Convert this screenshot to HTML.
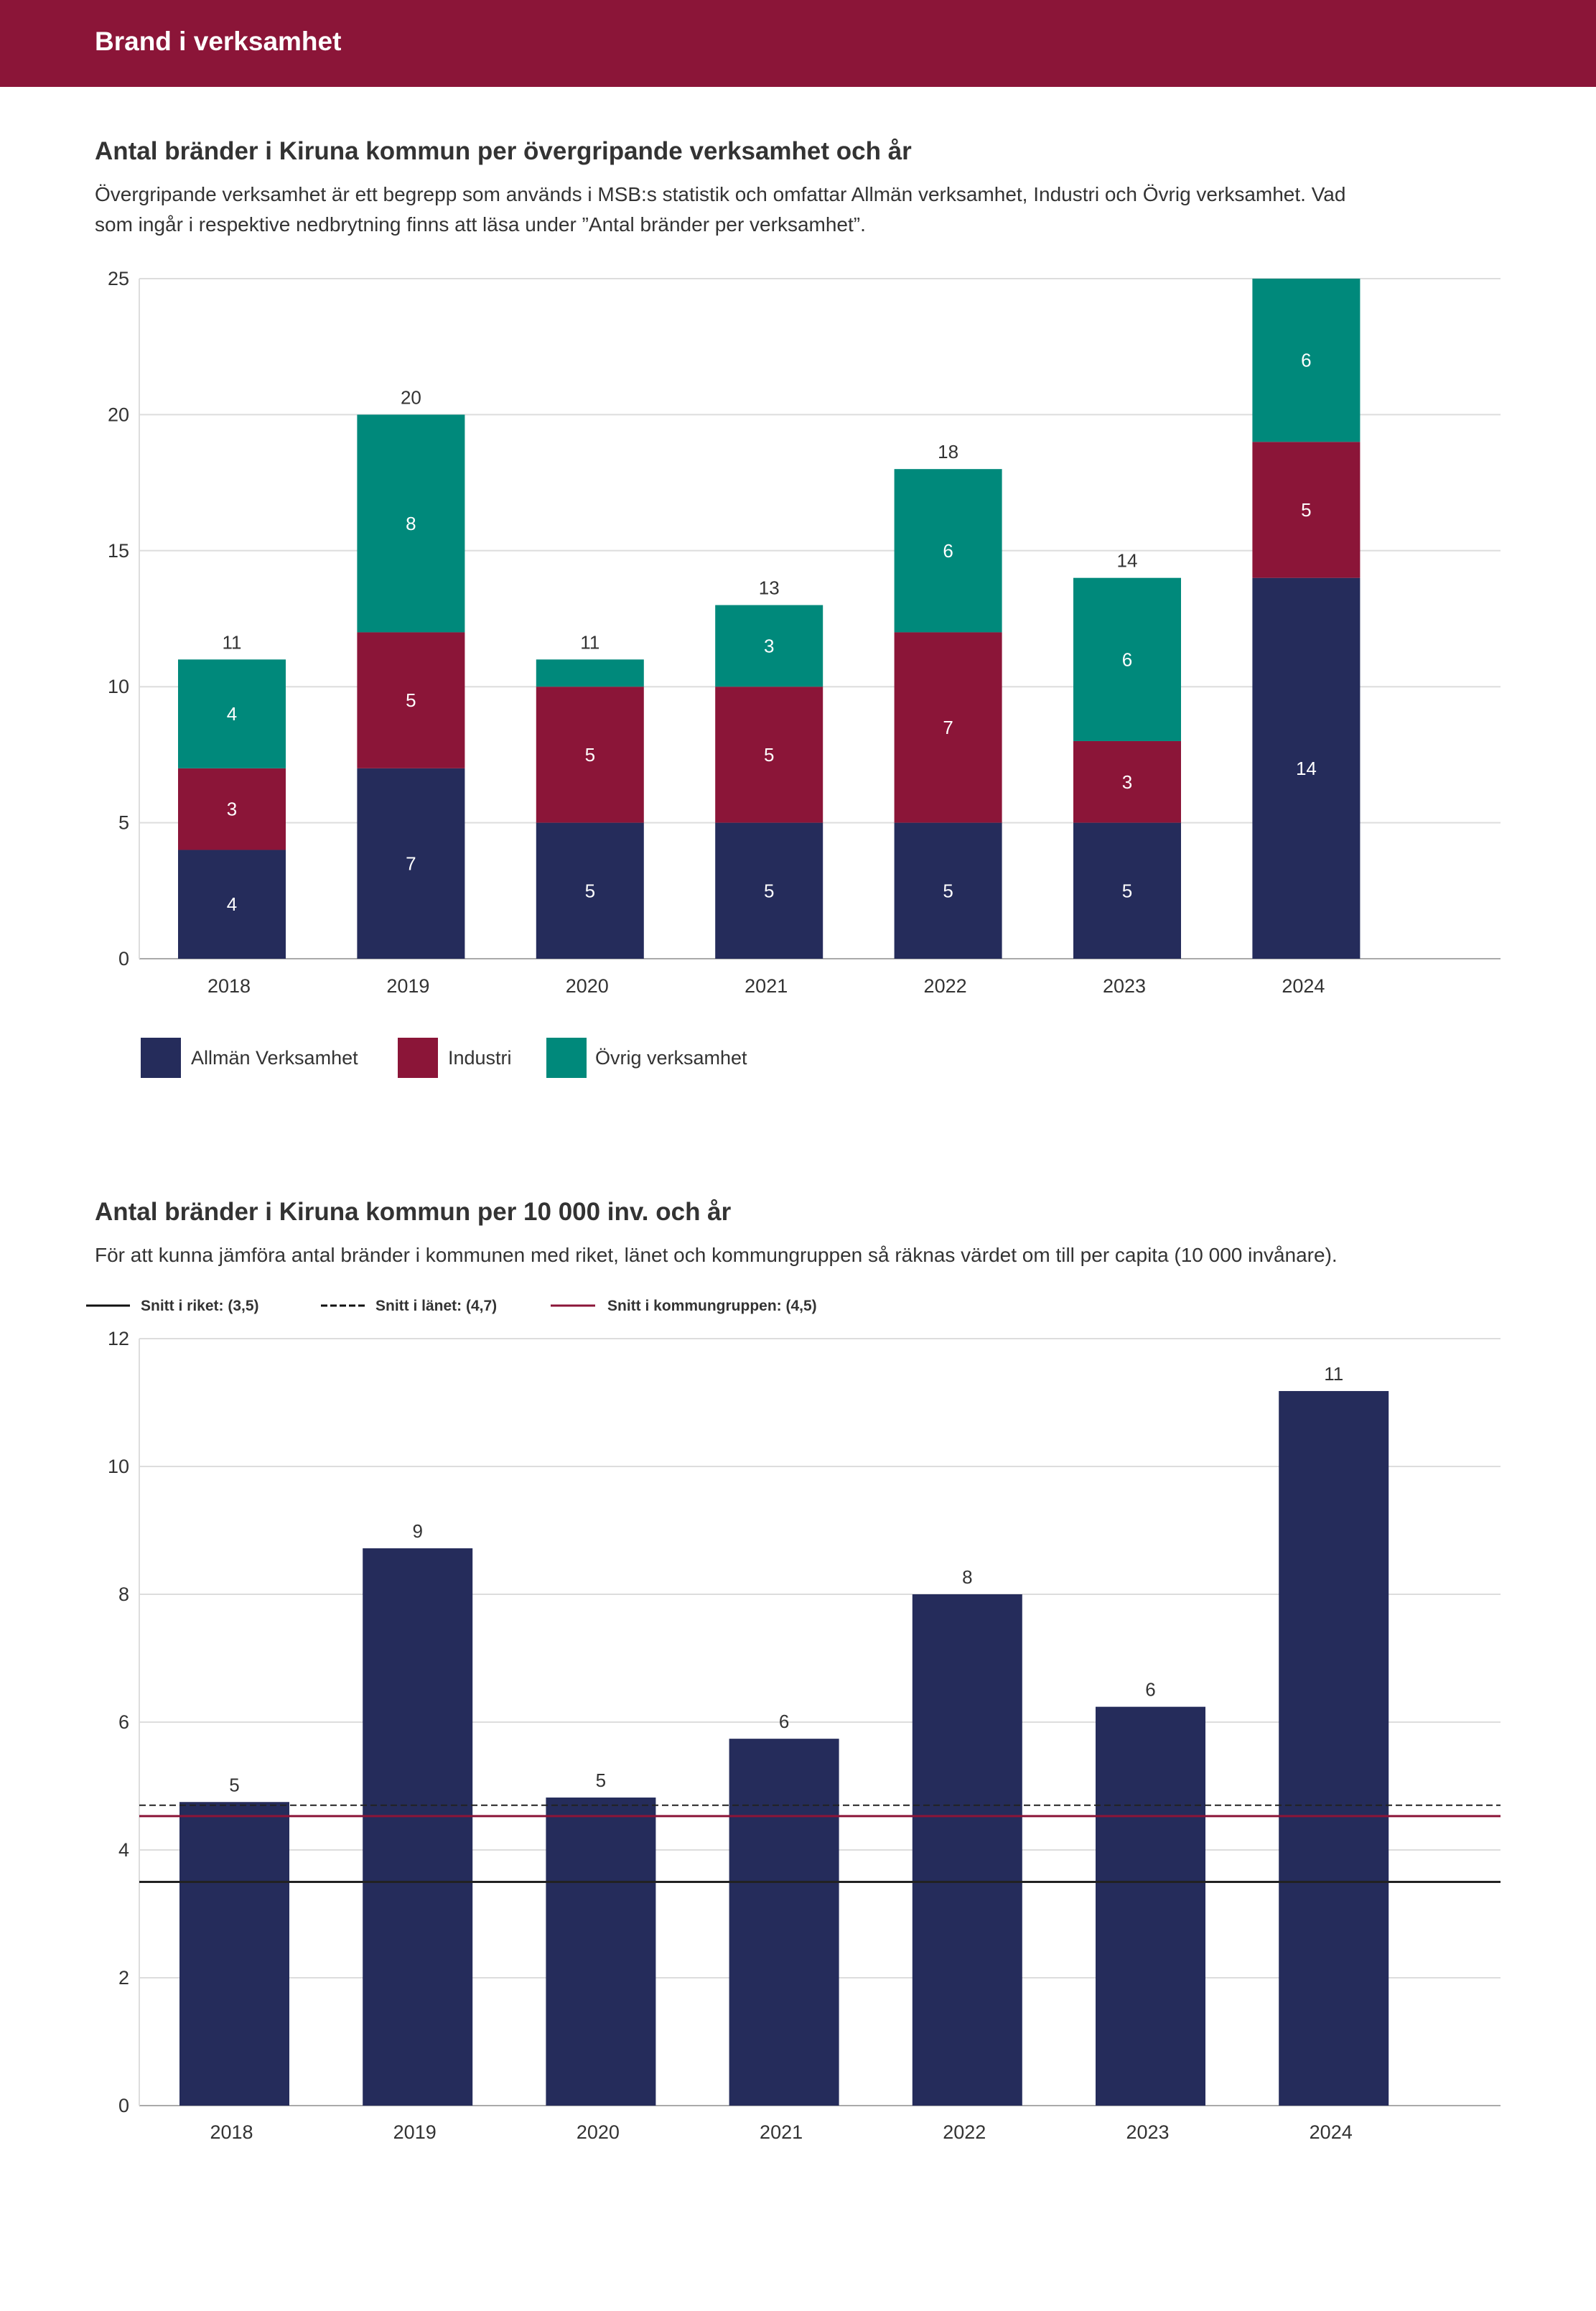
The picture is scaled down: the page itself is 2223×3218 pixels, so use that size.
<!DOCTYPE html>
<html><head><meta charset="utf-8">
<style>
html,body{margin:0;padding:0;background:#fff;}
body{width:2223px;height:3213px;overflow:hidden;font-family:"Liberation Sans",sans-serif;}
svg text{font-family:"Liberation Sans",sans-serif;}
</style></head>
<body>
<svg id="page" width="2223" height="3213" xmlns="http://www.w3.org/2000/svg">
<rect x="0" y="0" width="2223" height="121" fill="#8b1538"/>
<text x="132" y="70" font-size="37" font-weight="bold" fill="#fff">Brand i verksamhet</text>

<text x="132" y="222" font-size="35" font-weight="bold" fill="#333">Antal bränder i Kiruna kommun per övergripande verksamhet och år</text>
<text x="132" y="280" font-size="28" fill="#333">Övergripande verksamhet är ett begrepp som används i MSB:s statistik och omfattar Allmän verksamhet, Industri och Övrig verksamhet. Vad</text>
<text x="132" y="322" font-size="28" fill="#333">som ingår i respektive nedbrytning finns att läsa under ”Antal bränder per verksamhet”.</text>
<g id="chart1"></g>

<g>
<rect x="196" y="1445" width="56" height="56" fill="#252c5b"/>
<text x="266" y="1482" font-size="27" fill="#333">Allmän Verksamhet</text>
<rect x="554" y="1445" width="56" height="56" fill="#8b1538"/>
<text x="624" y="1482" font-size="27" fill="#333">Industri</text>
<rect x="761" y="1445" width="56" height="56" fill="#00897b"/>
<text x="829" y="1482" font-size="27" fill="#333">Övrig verksamhet</text>
</g>

<text x="132" y="1699" font-size="35" font-weight="bold" fill="#333">Antal bränder i Kiruna kommun per 10 000 inv. och år</text>
<text x="132" y="1757" font-size="28" fill="#333">För att kunna jämföra antal bränder i kommunen med riket, länet och kommungruppen så räknas värdet om till per capita (10 000 invånare).</text>
<g>
<line x1="120" y1="1818" x2="181" y2="1818" stroke="#111" stroke-width="3"/>
<text x="196" y="1825" font-size="21" font-weight="bold" fill="#333">Snitt i riket: (3,5)</text>
<line x1="447" y1="1818" x2="508" y2="1818" stroke="#111" stroke-width="3" stroke-dasharray="9,4"/>
<text x="523" y="1825" font-size="21" font-weight="bold" fill="#333">Snitt i länet: (4,7)</text>
<line x1="767" y1="1818" x2="829" y2="1818" stroke="#8b1538" stroke-width="3"/>
<text x="846" y="1825" font-size="21" font-weight="bold" fill="#333">Snitt i kommungruppen: (4,5)</text>
</g>
<g id="chart2"></g>
</svg>
<script>
const years = ["2018","2019","2020","2021","2022","2023","2024"];
const allman = [4,7,5,5,5,5,14];
const industri = [3,5,5,5,7,3,5];
const ovrig = [4,8,1,3,6,6,6];
const ticks1 = [0,5,10,15,20,25];

const perCapita = [4.75,8.72,4.82,5.74,8.0,6.24,11.18];
const ticks2 = [0,2,4,6,8,10,12];
const avgRiket = 3.5;
const avgLanet = 4.7;
const avgKommungrupp = 4.53;

const NS = "http://www.w3.org/2000/svg";
function mk(parent, tag, attrs, txt){
  const e = document.createElementNS(NS, tag);
  for (const k in attrs) e.setAttribute(k, attrs[k]);
  if (txt !== undefined) e.textContent = txt;
  parent.appendChild(e);
  return e;
}
const colors = ["#252c5b","#8b1538","#00897b"];

// Chart 1
(function(){
  const g = document.getElementById("chart1");
  const x0 = 194, x1 = 2090, yb = 1335, yt = 388, max = 25;
  const y = v => yb - (v / max) * (yb - yt);
  const step = 249.4, first = 248, bw = 150;
  const xb = i => first + i * step;
  ticks1.forEach(t => {
    const l = mk(g, "line", {x1:x0, x2:x1, y1:y(t), y2:y(t), stroke: t===0?"#aaa":"#ddd", "stroke-width":2});
    
    
    const tx = mk(g, "text", {x:180, y:y(t)+9, "font-size":27, fill:"#333", "text-anchor":"end"}, String(t));
    
    
  });
  const ax = mk(g, "line", {x1:x0, x2:x0, y1:yt, y2:yb, stroke:"#ddd", "stroke-width":2});
  
  
  const series = [allman, industri, ovrig];
  years.forEach((yr, i) => {
    let base = 0;
    series.forEach((s, k) => {
      const v = s[i];
      const r = mk(g, "rect", {x:xb(i), y:y(base+v), width:bw, height:y(base)-y(base+v), fill:colors[k]});
      
      
      if (v >= 2) {
        const t = mk(g, "text", {x:xb(i)+bw/2, y:(y(base)+y(base+v))/2+9, "font-size":26, fill:"#fff", "text-anchor":"middle"}, String(v));
        
        
      }
      base += v;
    });
    if (base < max) {
      const t = mk(g, "text", {x:xb(i)+bw/2, y:y(base)-15, "font-size":26, fill:"#333", "text-anchor":"middle"}, String(base));
      
      
    }
    const yl = mk(g, "text", {x:xb(i)+bw/2-4, y:1382, "font-size":27, fill:"#333", "text-anchor":"middle"}, yr);
    
    
  });
})();

// Chart 2
(function(){
  const g = document.getElementById("chart2");
  const x0 = 194, x1 = 2090, yb = 2932, yt = 1864, max = 12;
  const y = v => yb - (v / max) * (yb - yt);
  const step = 255.2, first = 250, bw = 153;
  const xb = i => first + i * step;
  ticks2.forEach(t => {
    const l = mk(g, "line", {x1:x0, x2:x1, y1:y(t), y2:y(t), stroke: t===0?"#aaa":"#ddd", "stroke-width":2});
    
    
    const tx = mk(g, "text", {x:180, y:y(t)+9, "font-size":27, fill:"#333", "text-anchor":"end"}, String(t));
    
    
  });
  const ax = mk(g, "line", {x1:x0, x2:x0, y1:yt, y2:yb, stroke:"#ddd", "stroke-width":2});
  
  
  years.forEach((yr, i) => {
    const v = perCapita[i];
    const r = mk(g, "rect", {x:xb(i), y:y(v), width:bw, height:yb-y(v), fill:colors[0]});
    
    
    const t = mk(g, "text", {x:xb(i)+bw/2, y:y(v)-15, "font-size":26, fill:"#333", "text-anchor":"middle"}, String(Math.round(v)));
    
    
    const yl = mk(g, "text", {x:xb(i)+bw/2-4, y:2978, "font-size":27, fill:"#333", "text-anchor":"middle"}, yr);
    
    
  });
  const l1 = mk(g, "line", {x1:x0, x2:x1, y1:y(avgLanet), y2:y(avgLanet), stroke:"#222", "stroke-width":2, "stroke-dasharray":"9,5"});
  
  
  const l2 = mk(g, "line", {x1:x0, x2:x1, y1:y(avgKommungrupp), y2:y(avgKommungrupp), stroke:"#8b1538", "stroke-width":3});
  
  
  const l3 = mk(g, "line", {x1:x0, x2:x1, y1:y(avgRiket), y2:y(avgRiket), stroke:"#222", "stroke-width":3});
  
  
})();
</script>
</body></html>
